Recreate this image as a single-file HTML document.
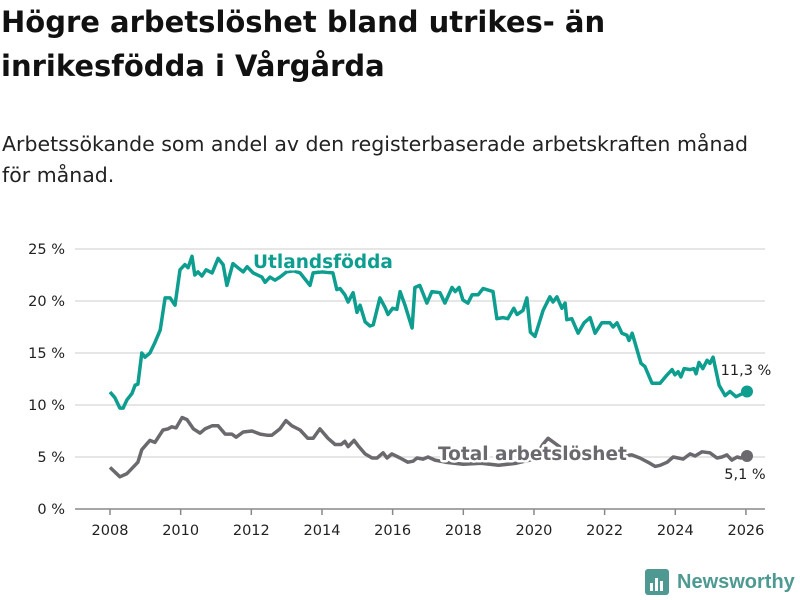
<!DOCTYPE html>
<html><head><meta charset="utf-8"><style>
body{margin:0;width:800px;height:600px;background:#fff;font-family:"DejaVu Sans","Liberation Sans",sans-serif;overflow:hidden;position:relative}
h1{position:absolute;left:1px;top:0px;margin:0;font-size:29px;line-height:44px;font-weight:bold;color:#111;width:798px;white-space:nowrap}
p{position:absolute;left:2px;top:129px;margin:0;font-size:20.5px;line-height:31px;color:#222;width:798px;white-space:nowrap}
svg{position:absolute;left:0;top:0}
svg text{font-family:"DejaVu Sans","Liberation Sans",sans-serif}
</style></head><body>
<h1>Högre arbetslöshet bland utrikes- än<br>inrikesfödda i Vårgårda</h1>
<p>Arbetssökande som andel av den registerbaserade arbetskraften månad<br>för månad.</p>
<svg id="chart" width="800" height="600"></svg>
<script>
const foreignT=[2008.0,2008.14,2008.28,2008.37,2008.48,2008.62,2008.71,2008.79,2008.9,2008.99,2009.13,2009.27,2009.42,2009.56,2009.7,2009.84,2009.98,2010.12,2010.21,2010.32,2010.4,2010.49,2010.6,2010.72,2010.89,2011.06,2011.2,2011.31,2011.48,2011.62,2011.77,2011.88,2012.05,2012.3,2012.39,2012.53,2012.67,2012.81,2013.0,2013.2,2013.38,2013.66,2013.75,2014.0,2014.31,2014.42,2014.51,2014.65,2014.74,2014.88,2014.99,2015.08,2015.22,2015.36,2015.45,2015.64,2015.78,2015.87,2016.0,2016.12,2016.21,2016.35,2016.55,2016.63,2016.77,2016.97,2017.11,2017.34,2017.48,2017.68,2017.77,2017.88,2017.99,2018.13,2018.25,2018.42,2018.56,2018.84,2018.95,2019.12,2019.26,2019.43,2019.52,2019.69,2019.8,2019.9,2020.03,2020.26,2020.45,2020.54,2020.65,2020.79,2020.88,2020.93,2021.07,2021.25,2021.42,2021.59,2021.73,2021.92,2022.15,2022.24,2022.35,2022.49,2022.63,2022.69,2022.78,2023.03,2023.14,2023.34,2023.57,2023.77,2023.91,2023.99,2024.08,2024.16,2024.25,2024.42,2024.53,2024.59,2024.67,2024.78,2024.9,2024.98,2025.07,2025.24,2025.41,2025.55,2025.72,2026.03];
const foreignV=[11.25,10.7,9.7,9.7,10.5,11.1,11.9,12.0,15.0,14.6,15.0,16.0,17.2,20.3,20.3,19.6,23.0,23.5,23.2,24.3,22.5,22.8,22.4,23.0,22.7,24.1,23.5,21.5,23.6,23.2,22.8,23.3,22.7,22.3,21.8,22.3,22.0,22.3,22.8,22.9,22.7,21.5,22.7,22.8,22.7,21.1,21.2,20.6,19.9,20.8,18.9,19.6,18.0,17.6,17.7,20.3,19.4,18.7,19.3,19.2,20.9,19.6,17.4,21.3,21.5,19.8,20.9,20.8,19.8,21.3,20.9,21.3,20.1,19.8,20.6,20.6,21.2,20.9,18.3,18.4,18.3,19.3,18.7,19.1,20.3,17.0,16.6,19.1,20.4,19.9,20.4,19.3,19.8,18.2,18.3,16.9,17.9,18.4,16.9,17.9,17.9,17.5,17.9,16.9,16.7,16.2,16.9,14.0,13.7,12.1,12.1,12.9,13.4,12.9,13.2,12.7,13.5,13.4,13.5,13.0,14.1,13.5,14.3,14.0,14.6,11.9,10.9,11.3,10.8,11.3];
const totalT=[2008.0,2008.28,2008.48,2008.79,2008.9,2009.13,2009.27,2009.5,2009.64,2009.75,2009.87,2010.04,2010.18,2010.36,2010.55,2010.69,2010.89,2011.06,2011.26,2011.45,2011.57,2011.77,2012.02,2012.25,2012.44,2012.58,2012.81,2012.98,2013.15,2013.38,2013.6,2013.75,2013.94,2014.17,2014.37,2014.54,2014.65,2014.74,2014.91,2015.02,2015.22,2015.42,2015.56,2015.73,2015.84,2015.98,2016.21,2016.43,2016.58,2016.69,2016.86,2017.0,2017.2,2017.5,2018.0,2018.5,2019.0,2019.5,2020.0,2020.25,2020.4,2020.6,2020.8,2021.0,2021.5,2022.0,2022.5,2022.77,2023.0,2023.28,2023.43,2023.57,2023.77,2023.94,2024.08,2024.22,2024.42,2024.56,2024.76,2024.98,2025.18,2025.32,2025.46,2025.6,2025.75,2025.86,2026.03];
const totalV=[4.0,3.1,3.4,4.5,5.7,6.6,6.4,7.6,7.7,7.9,7.8,8.8,8.6,7.7,7.3,7.7,8.0,8.0,7.2,7.2,6.9,7.4,7.5,7.2,7.1,7.1,7.7,8.5,8.0,7.6,6.8,6.8,7.7,6.8,6.2,6.2,6.5,6.0,6.6,6.1,5.3,4.9,4.9,5.4,4.9,5.3,4.9,4.5,4.6,4.9,4.8,5.0,4.7,4.5,4.3,4.4,4.2,4.4,4.8,6.2,6.8,6.3,5.8,5.3,5.0,5.0,5.1,5.2,4.9,4.4,4.1,4.2,4.5,5.0,4.9,4.8,5.3,5.1,5.5,5.4,4.9,5.0,5.2,4.7,5.0,4.9,5.1];
const yTicks=[0,5,10,15,20,25];
const xTicks=[2008,2010,2012,2014,2016,2018,2020,2022,2024,2026];
const endLabels=["11,3 %","5,1 %"];
const svg=document.getElementById('chart');
const NS='http://www.w3.org/2000/svg';
const X=t=>110+(t-2008)*35.33;
const Y=v=>509-v*10.4;
function mk(tag,attrs,parent){const e=document.createElementNS(NS,tag);for(const k in attrs)e.setAttribute(k,attrs[k]);(parent||svg).appendChild(e);return e;}
yTicks.forEach(v=>{
  const g=mk('line',{x1:75,x2:765,y1:Y(v),y2:Y(v),stroke:v===0?'#888':'#ddd','stroke-width':1.5});
  
  
  const t=mk('text',{x:65,y:Y(v)+5,'text-anchor':'end','font-size':14.5,fill:'#222'});
  t.textContent=v+' %';
  
  
});
xTicks.forEach(yr=>{
  const l=mk('line',{x1:X(yr),x2:X(yr),y1:509,y2:515,stroke:'#888','stroke-width':1.5});
  
  
  const t=mk('text',{x:X(yr),y:535,'text-anchor':'middle','font-size':14.5,fill:'#222'});
  t.textContent=yr;
  
  
});
function line(ts,vs,color,name){
  const p=mk('path',{d:ts.map((t,i)=>(i?'L':'M')+X(t).toFixed(1)+','+Y(vs[i]).toFixed(1)).join(''),fill:'none',stroke:color,'stroke-width':3.5,'stroke-linejoin':'round'});
  
  
  const n=ts.length-1;
  const c=mk('circle',{cx:X(ts[n]),cy:Y(vs[n]),r:6,fill:color});
  
  
}
line(foreignT,foreignV,'#0d9e90','line-utlandsfodda');
line(totalT,totalV,'#6b696e','line-total');
const halo={stroke:'#fff','stroke-width':5,'paint-order':'stroke','stroke-linejoin':'round'};
const l1=mk('text',Object.assign({x:253,y:268,'font-size':18.5,'font-weight':'bold',fill:'#0d9e90'},halo));
l1.textContent='Utlandsfödda';


const l2=mk('text',Object.assign({x:438,y:460,'font-size':18.5,'font-weight':'bold',fill:'#6b696e'},halo));
l2.textContent='Total arbetslöshet';


const e1=mk('text',{x:746,y:375,'text-anchor':'middle','font-size':14.5,fill:'#222'});
e1.textContent=endLabels[0];


const e2=mk('text',{x:745,y:479,'text-anchor':'middle','font-size':14.5,fill:'#222'});
e2.textContent=endLabels[1];


</script>
<div style="position:absolute;left:645px;top:569px;display:flex;align-items:center">
<div style="width:24px;height:26px;background:#4e9a92;border-radius:3px;position:relative;margin-right:8px">
<div style="position:absolute;left:5px;bottom:4px;width:3px;height:8px;background:#fff"></div>
<div style="position:absolute;left:10px;bottom:4px;width:3px;height:13px;background:#fff"></div>
<div style="position:absolute;left:15px;bottom:4px;width:3px;height:10px;background:#fff"></div>
</div>
<span style="font-size:17px;font-weight:bold;color:#4e9a92;font-family:'Liberation Sans',sans-serif;font-size:20px">Newsworthy</span>
</div>
</body></html>
